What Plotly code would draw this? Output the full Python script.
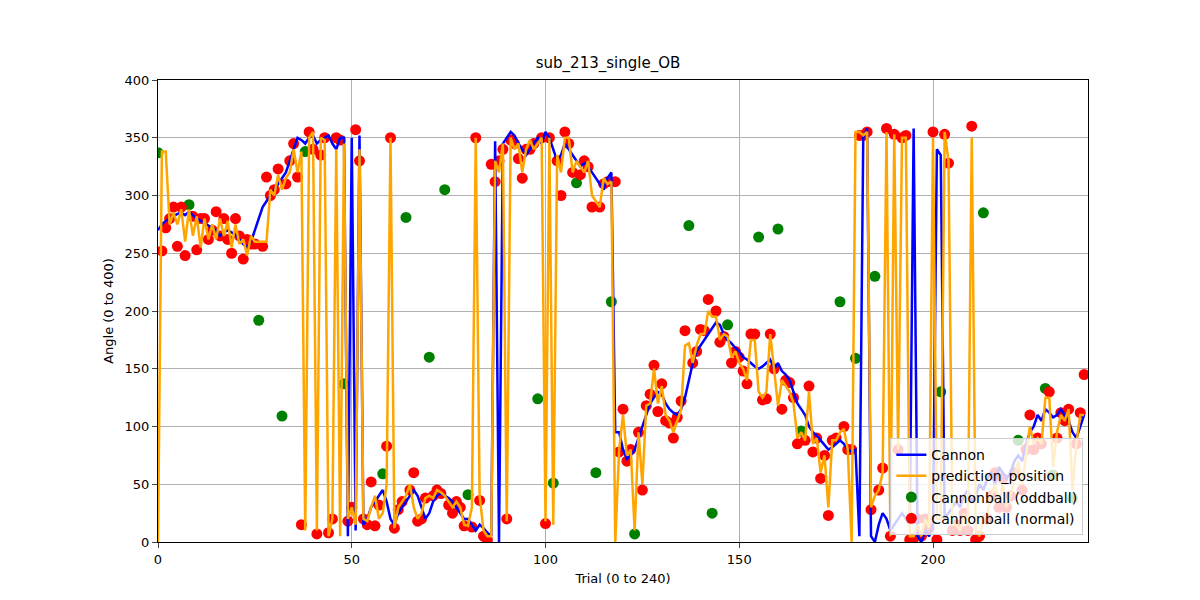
import plotly.graph_objects as go

trials = list(range(240))

cannon = [
    270, 275, 278, 280, 282, 284, 285, 283, 286, 283,
    280, 278, 276, 274, 272, 270, 265, 268, 270, 268,
    266, 262, 258, 255, 260, 270, 280, 290, 295, 300,
    305, 310, 315, 320, 330, 340, 350, 348, 345, 350,
    352, 345, 348, 350, 352, 345, 340, 350, 350, 5,
    350, 10, 352, 15, 20, 30, 35, 40, 45, 35,
    20, 15, 25, 30, 35, 40, 45, 40, 30, 20,
    25, 35, 40, 42, 40, 38, 35, 30, 25, 20,
    20, 15, 10, 15, 12, 8, 5, 347, 0, 345,
    350, 355, 352, 345, 340, 335, 340, 345, 350, 345,
    355, 350, 340, 330, 335, 345, 340, 335, 330, 325,
    328, 325, 320, 315, 310, 305, 315, 320, 95, 95,
    80, 72, 75, 80, 90, 100, 110, 120, 125, 130,
    128, 120, 115, 112, 110, 115, 125, 140, 155, 165,
    170, 175, 180, 185, 190, 188, 180, 175, 172, 168,
    165, 160, 158, 155, 152, 150, 152, 155, 158, 150,
    155, 148, 145, 140, 130, 120, 115, 110, 100, 95,
    92, 88, 85, 80, 82, 85, 88, 85, 80, 78,
    80, 5, 350, 358, 5, 0, 15, 25, 20, 10,
    15, 20, 25, 20, 15, 358, 5, 0, 10, 5,
    15, 340, 335, 20, 25, 30, 35, 30, 40, 45,
    35, 40, 50, 45, 55, 60, 50, 65, 60, 55,
    60, 70, 75, 70, 85, 95, 100, 110, 105, 115,
    112, 108, 110, 115, 110, 105, 95, 90, 100, 110,
]

prediction = [
    0, 338, 338, 275, 285, 275, 288, 260, 288, 265,
    282, 255, 280, 262, 275, 262, 280, 265, 278, 255,
    275, 258, 262, 248, 265, 260, 260, 260, 260, 305,
    300, 318, 305, 315, 320, 340, 320, 338, 10, 350,
    355, 10, 350, 348, 5, 20, 340, 5, 345, 20,
    30, 15, 340, 20, 18, 30, 40, 20, 25, 50,
    350, 12, 30, 35, 40, 50, 30, 20, 25, 38,
    40, 38, 45, 43, 40, 35, 30, 35, 30, 15,
    14, 30, 350, 40, 10, 5, 5, 330, 320, 345,
    18, 350, 340, 345, 320, 340, 348, 340, 345, 350,
    18, 350, 15, 335, 320, 350, 350, 320, 330, 325,
    320, 330, 300, 295, 290, 315, 310, 312, 0, 80,
    110, 75, 80, 10, 95, 50, 118, 120, 150, 120,
    135, 110, 105, 95, 105, 115, 170, 172, 155, 170,
    180, 180, 200, 195, 195, 175, 180, 178, 160, 165,
    155, 150, 140, 175, 175, 130, 125, 130, 180, 150,
    118, 140, 135, 130, 120, 90, 95, 88, 130, 85,
    90, 60, 75, 30, 88, 88, 95, 98, 80, 0,
    355, 355, 352, 355, 30, 40, 45, 60, 355, 5,
    353, 80, 350, 350, 5, 5, 15, 5, 20, 12,
    350, 20, 20, 355, 330, 15, 15, 10, 25, 15,
    350, 10, 5, 20, 25, 40, 50, 35, 50, 30,
    40, 55, 70, 50, 75, 100, 85, 90, 85, 125,
    125, 65, 95, 110, 105, 115, 45, 85, 110, 110,
]

cannonball = [
    337, 252, 272, 280, 290, 256, 290, 248, 292, 282,
    253, 280, 280, 262, 270, 286, 265, 280, 262, 250,
    280, 265, 245, 262, 258, 258, 192, 256, 316, 300,
    305, 323, 109, 310, 330, 345, 316, 15, 338, 355,
    340, 7, 335, 350, 8, 20, 350, 348, 137, 18,
    30, 357, 330, 20, 15, 52, 14, 32, 59, 83,
    350, 12, 28, 35, 281, 45, 60, 18, 20, 38,
    160, 40, 45, 42, 305, 32, 25, 35, 30, 14,
    41, 13, 350, 36, 5, 2, 327, 312, 330, 340,
    20, 348, 345, 332, 315, 340, 340, 345, 124, 350,
    16, 350, 51, 330, 300, 355, 345, 320, 311, 318,
    330, 325, 290, 60, 290, 310, 312, 208, 312, 78,
    115, 70, 80, 7, 95, 45, 118, 128, 153, 113,
    137, 105, 103, 90, 108, 122, 183, 274, 155, 165,
    184, 183, 210, 25, 200, 173, 178, 188, 155, 165,
    160, 148, 137, 180, 180, 264, 123, 124, 180, 150,
    271, 115, 140, 138, 125, 85, 96, 88, 135, 78,
    90, 55, 75, 23, 88, 90, 208, 100, 80, 80,
    159, 352, 352, 355, 28, 230, 45, 64, 358, 5,
    353, 80, 350, 352, 2, 3, 20, 5, 20, 12,
    355, 2, 130, 353, 328, 10, 15, 10, 25, 10,
    360, 2, 5, 285, 20, 40, 60, 30, 55, 30,
    40, 60, 88, 45, 80, 110, 80, 90, 85, 133,
    130, 58, 90, 112, 105, 115, 38, 85, 112, 145,
]

oddball_trials = [0, 8, 26, 32, 38, 48, 58, 64, 70, 74, 80, 98, 102, 108, 113, 117,
                  123, 137, 143, 147, 155, 160, 166, 176, 180, 185, 202, 213, 222,
                  229, 231, 236]

odd_x = [t for t in trials if t in oddball_trials]
odd_y = [cannonball[t] for t in odd_x]
norm_x = [t for t in trials if t not in oddball_trials]
norm_y = [cannonball[t] for t in norm_x]

fig = go.Figure()
fig.add_trace(go.Scatter(x=odd_x, y=odd_y, mode="markers", name="Cannonball (oddball)",
                         marker=dict(color="green", size=11), legendrank=3, cliponaxis=True))
fig.add_trace(go.Scatter(x=norm_x, y=norm_y, mode="markers", name="Cannonball (normal)",
                         marker=dict(color="red", size=11), legendrank=4, cliponaxis=True))
fig.add_trace(go.Scatter(x=trials, y=cannon, mode="lines", name="Cannon",
                         line=dict(color="blue", width=2.5), legendrank=1))
fig.add_trace(go.Scatter(x=trials, y=prediction, mode="lines", name="prediction_position",
                         line=dict(color="orange", width=2.5), legendrank=2))

axis = dict(showline=True, linecolor="black", mirror=True, ticks="outside",
            showgrid=True, gridcolor="#b0b0b0", zeroline=False, automargin=False,
            tickfont=dict(size=13, color="black"))
fig.update_layout(
    width=1200, height=600,
    plot_bgcolor="white", paper_bgcolor="white",
    font=dict(family="DejaVu Sans", color="black"),
    title=dict(text="sub_213_single_OB", x=0.5, xanchor="center", y=0.9, yanchor="bottom",
               font=dict(size=15)),
    margin=dict(l=150, r=120, t=72, b=66, autoexpand=False),
    showlegend=True,
    legend=dict(x=0.995, y=0.015, xanchor="right", yanchor="bottom",
                bgcolor="rgba(255,255,255,0.8)", bordercolor="#cccccc", borderwidth=1,
                font=dict(size=14)),
)
fig.update_xaxes(range=[0, 240], tickvals=[0, 50, 100, 150, 200],
                 title=dict(text="Trial (0 to 240)", font=dict(size=13), standoff=8), **axis)
fig.update_yaxes(range=[0, 400], dtick=50,
                 title=dict(text="Angle (0 to 400)", font=dict(size=13), standoff=8), **axis)

fig.write_html("out.html")
